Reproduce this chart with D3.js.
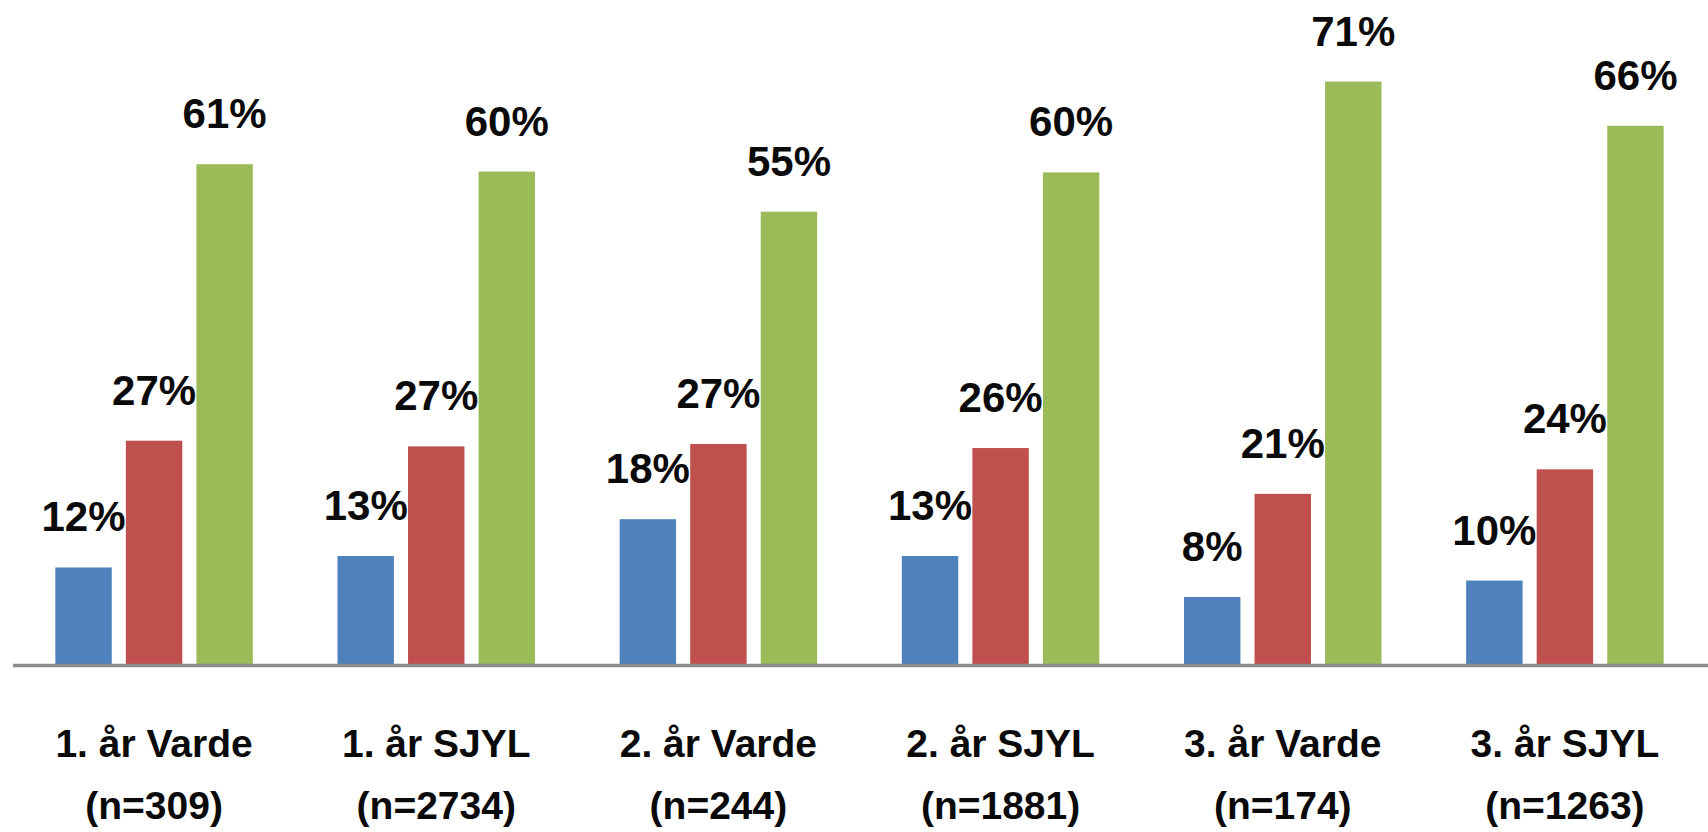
<!DOCTYPE html>
<html>
<head>
<meta charset="utf-8">
<script src="https://cdnjs.cloudflare.com/ajax/libs/d3/7.8.5/d3.min.js"></script>
<style>
  body { margin: 0; background: #ffffff; }
  .bar-label { font-family: "Liberation Sans", Arial, sans-serif; font-weight: bold; font-size: 42px; fill: #0a0a0a; }
  .cat-label { font-family: "Liberation Sans", Arial, sans-serif; font-weight: bold; font-size: 39px; fill: #0a0a0a; }
</style>
</head>
<body>
<div id="chart"></div>
<script>
// data
var categories = ["1. år Varde", "1. år SJYL", "2. år Varde", "2. år SJYL", "3. år Varde", "3. år SJYL"];
var sampleSizes = ["(n=309)", "(n=2734)", "(n=244)", "(n=1881)", "(n=174)", "(n=1263)"];
var seriesNames = ["s1", "s2", "s3"];
var blueValues  = [0.118, 0.132, 0.177, 0.132, 0.082, 0.102];
var redValues   = [0.273, 0.266, 0.269, 0.264, 0.208, 0.238];
var greenValues = [0.611, 0.602, 0.553, 0.601, 0.712, 0.658];
var colors = ["#4f81bd", "#c0504d", "#9bbb59"];

// set the dimensions of the graph
var width = 1708,
    height = 832,
    baseline = 664;

var svg = d3.select("#chart")
  .append("svg")
    .attr("width", width)
    .attr("height", height);

// build rows for drawing
var data = categories.map(function(c, i) {
  return { cat: c, n: sampleSizes[i], values: [blueValues[i], redValues[i], greenValues[i]] };
});

// X scales
var x = d3.scaleBand()
  .domain(categories)
  .range([13, 1706])
  .paddingInner(0.3)
  .paddingOuter(0.15);

var xSub = d3.scaleBand()
  .domain(seriesNames)
  .range([0, x.bandwidth()])
  .paddingInner(0.2)
  .paddingOuter(0);

// Y scale
var y = d3.scaleLinear()
  .domain([0, 0.8])
  .range([baseline, baseline - 0.8 * 818]);

var pct = d3.format(".0%");

var groups = svg.selectAll(".group")
  .data(data)
  .enter()
  .append("g")
    .attr("class", "group")
    .attr("transform", function(d) { return "translate(" + x(d.cat) + ",0)"; });

// Bars
groups.selectAll("rect")
  .data(function(d) { return d.values.map(function(v, j) { return { key: seriesNames[j], value: v, idx: j }; }); })
  .enter()
  .append("rect")
    .attr("x", function(d) { return xSub(d.key); })
    .attr("y", function(d) { return y(d.value); })
    .attr("width", xSub.bandwidth())
    .attr("height", function(d) { return baseline - y(d.value); })
    .attr("fill", function(d) { return colors[d.idx]; });

// value labels above bars
groups.selectAll(".bar-label")
  .data(function(d) { return d.values.map(function(v, j) { return { key: seriesNames[j], value: v }; }); })
  .enter()
  .append("text")
    .attr("class", "bar-label")
    .attr("x", function(d) { return xSub(d.key) + xSub.bandwidth() / 2; })
    .attr("y", function(d) { return y(d.value) - 36; })
    .attr("text-anchor", "middle")
    .text(function(d) { return pct(d.value); });

// X axis line
var xAxis = svg.append("g")
  .attr("transform", "translate(0," + baseline + ")")
  .call(d3.axisBottom(x).tickSize(0).tickFormat(""));
xAxis.select(".domain")
  .attr("d", "M13,1.5H1708")
  .attr("stroke", "#8c8c8c")
  .attr("stroke-width", 3.5);

// category labels, two lines
var catText = svg.selectAll(".cat-label")
  .data(data)
  .enter()
  .append("text")
    .attr("class", "cat-label")
    .attr("text-anchor", "middle")
    .attr("x", function(d) { return x(d.cat) + x.bandwidth() / 2; })
    .attr("y", 757);

catText.append("tspan")
  .attr("x", function(d) { return x(d.cat) + x.bandwidth() / 2; })
  .text(function(d) { return d.cat; });

catText.append("tspan")
  .attr("x", function(d) { return x(d.cat) + x.bandwidth() / 2; })
  .attr("dy", 62)
  .text(function(d) { return d.n; });
</script>
</body>
</html>
